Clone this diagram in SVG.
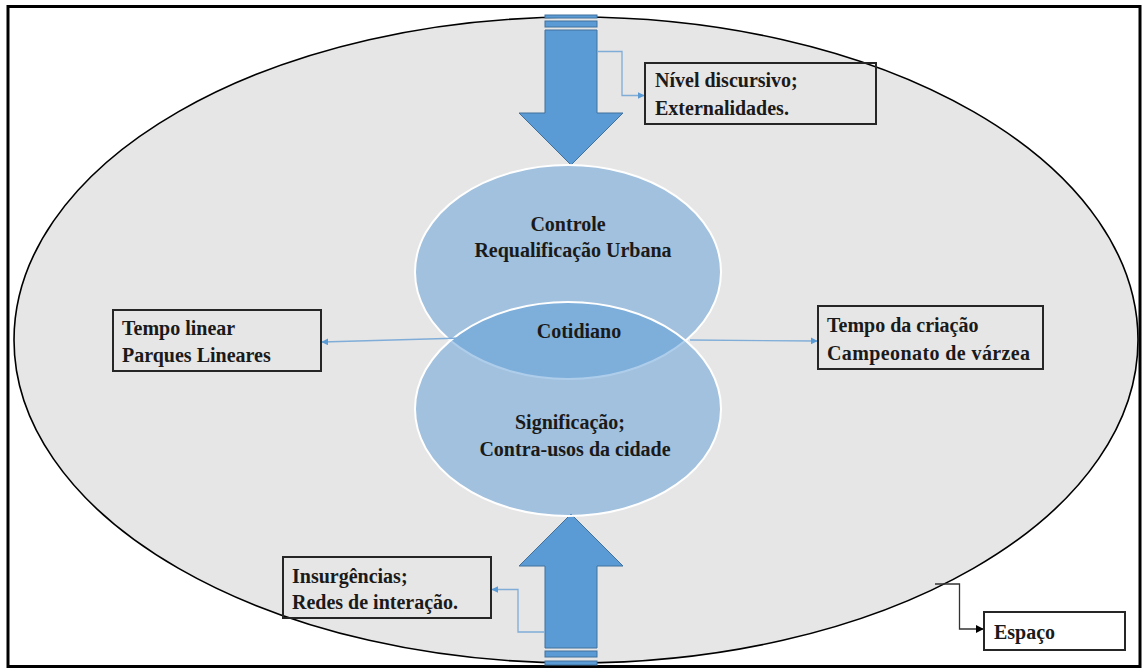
<svg xmlns="http://www.w3.org/2000/svg" width="1142" height="669" viewBox="0 0 1142 669">
<defs>
<style>
.t{font-family:'Liberation Serif','DejaVu Serif',serif;font-weight:bold;font-size:20px;fill:#1a1a1a}
.c{text-anchor:middle}
.box{fill:none;stroke:#262626;stroke-width:2}
.bl{fill:#5b9bd5;stroke:#41719c;stroke-width:1}
.cir{fill:#5b9bd5;fill-opacity:0.5;stroke:#ffffff;stroke-width:2}
.lk{fill:none;stroke:#7fadd8;stroke-width:1.3}
</style>
<marker id="ab" viewBox="0 0 10 10" refX="9" refY="5" markerWidth="7" markerHeight="7" orient="auto" markerUnits="userSpaceOnUse"><path d="M0,0 L10,5 L0,10 z" fill="#5b9bd5"/></marker>
<marker id="ak" viewBox="0 0 10 10" refX="9" refY="5" markerWidth="8" markerHeight="8" orient="auto" markerUnits="userSpaceOnUse"><path d="M0,0 L10,5 L0,10 z" fill="#000"/></marker>
</defs>
<rect x="0" y="0" width="1142" height="669" fill="#ffffff"/>
<rect x="8" y="6.5" width="1132" height="660" fill="none" stroke="#000" stroke-width="3"/>
<g id="espaco-ellipse">
<ellipse cx="576" cy="340" rx="562" ry="323" fill="#e6e6e6" stroke="#000" stroke-width="1.6"/>
</g>
<g id="arrow-top">
<rect x="545" y="15" width="52" height="3" class="bl"/>
<rect x="545" y="21" width="52" height="6" class="bl"/>
<path d="M545,30 L597,30 L597,113 L623,113 L571,165 L519,113 L545,113 Z" class="bl"/>
</g>
<g id="arrow-bottom">
<path d="M571,514 L623,566 L597,566 L597,648 L545,648 L545,566 L519,566 Z" class="bl"/>
<rect x="545" y="651" width="52" height="6" class="bl"/>
<rect x="545" y="661" width="52" height="4" class="bl"/>
</g>
<g font-family="Liberation Serif, DejaVu Serif, serif" font-weight="bold" font-size="20" fill="#1a1a1a">
<g id="controle">
<ellipse cx="568" cy="272" rx="153" ry="107" class="cir"/>
<text class="t c" x="568" y="231">Controle</text>
<text class="t c" x="573" y="257">Requalificação Urbana</text>
</g>
<g id="significacao">
<ellipse cx="568" cy="409" rx="153" ry="107" class="cir"/>
<text class="t c" x="570" y="429">Significação;</text>
<text class="t c" x="575" y="456">Contra-usos da cidade</text>
</g>
<g id="cotidiano">
<text class="t c" x="579" y="338">Cotidiano</text>
</g>
<g id="connectors">
<path d="M597,51.5 L622,51.5 L622,95.5 L644,95.5" class="lk" marker-end="url(#ab)"/>
<path d="M463,338 L322,342" class="lk" marker-end="url(#ab)"/>
<path d="M690,340 L817,341" class="lk" marker-end="url(#ab)"/>
<path d="M545,632 L518,632 L518,589.5 L492,589.5" class="lk" marker-end="url(#ab)"/>
<path d="M935,584 L959.5,584 L959.5,629 L983,629" fill="none" stroke="#333" stroke-width="1.3" marker-end="url(#ak)"/>
</g>
<g id="nivel">
<rect x="645" y="63" width="231" height="61" class="box"/>
<text class="t" x="655" y="87">Nível discursivo;</text>
<text class="t" x="655" y="115">Externalidades.</text>
</g>
<g id="tempo-linear">
<rect x="113" y="310" width="208" height="61" class="box"/>
<text class="t" x="122" y="335">Tempo linear</text>
<text class="t" x="122" y="362">Parques Lineares</text>
</g>
<g id="tempo-criacao">
<rect x="818" y="306" width="225" height="63" class="box"/>
<text class="t" x="827" y="332">Tempo da criação</text>
<text class="t" x="827" y="360" letter-spacing="0.4">Campeonato de várzea</text>
</g>
<g id="insurgencias">
<rect x="283" y="557" width="208" height="61" class="box"/>
<text class="t" x="292" y="583">Insurgências;</text>
<text class="t" x="292" y="609">Redes de interação.</text>
</g>
<g id="espaco">
<rect x="984" y="612" width="141" height="38" class="box"/>
<text class="t" x="994" y="639">Espaço</text>
</g>
</g>
</svg>
